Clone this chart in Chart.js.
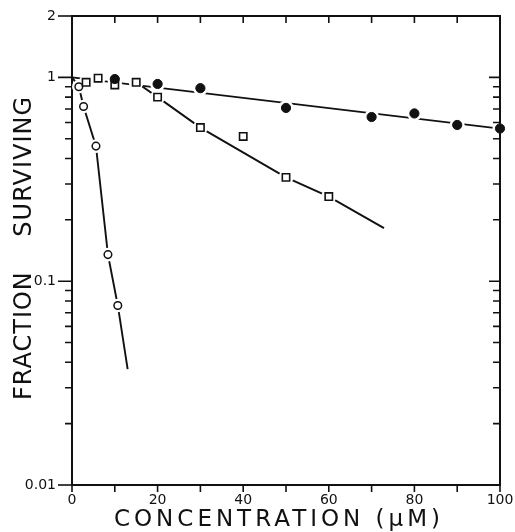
<!DOCTYPE html>
<html>
<head>
<meta charset="utf-8">
<script src="https://cdn.jsdelivr.net/npm/chart.js@4.4.1/dist/chart.umd.min.js"></script>
<style>
  html, body { margin: 0; padding: 0; background: #fff; }
  #wrap { width: 515px; height: 532px; }
</style>
</head>
<body>
<div id="wrap"><canvas id="survivalChart"></canvas></div>
<script>
  // Open circles
  const openX = [1.6, 2.7, 5.6, 8.4, 10.7];
  const openY = [0.90, 0.72, 0.46, 0.135, 0.076];
  const openCurveX = [0, 1.6, 2.7, 5.6, 8.4, 10.7, 13.0];
  const openCurveY = [1.0, 0.90, 0.72, 0.46, 0.135, 0.076, 0.037];

  // Open squares
  const squareX = [3.3, 6.1, 10, 15, 20, 30, 40, 50, 60];
  const squareY = [0.946, 0.99, 0.918, 0.946, 0.80, 0.567, 0.513, 0.323, 0.26];
  const squareCurveX = [15, 20, 30, 50, 60, 72.9];
  const squareCurveY = [0.946, 0.80, 0.567, 0.323, 0.26, 0.182];

  // Filled circles
  const filledX = [10, 20, 30, 50, 70, 80, 90, 100];
  const filledY = [0.981, 0.928, 0.885, 0.708, 0.639, 0.665, 0.584, 0.561];
  const filledLineX = [0, 100];
  const filledLineY = [1.0, 0.56];

  // Axes
  const xTicks = [0, 10, 20, 30, 40, 50, 60, 70, 80, 90, 100];
  const xLabelled = [0, 20, 40, 60, 80, 100];
  const yTicks = [0.01, 0.02, 0.03, 0.04, 0.05, 0.06, 0.07, 0.08, 0.09,
                  0.1, 0.2, 0.3, 0.4, 0.5, 0.6, 0.7, 0.8, 0.9, 1, 2];
  const yLabels = { 0.01: '0.01', 0.1: '0.1', 1: '1', 2: '2' };
  const xTitle = 'CONCENTRATION (\u00b5M)';
  const yTitle = 'FRACTION    SURVIVING';

  const pts = (xs, ys) => xs.map((x, i) => ({ x: x, y: ys[i] }));
  const ink = '#111';

  // ticks on all four sides, top/right borders and axis titles
  const frame = {
    id: 'frame',
    afterDraw(chart) {
      const { ctx, chartArea: a, scales: { x, y } } = chart;
      ctx.save();
      ctx.strokeStyle = ink;
      ctx.lineWidth = 2;
      ctx.beginPath();
      ctx.moveTo(a.left, a.top);
      ctx.lineTo(a.right, a.top);
      ctx.lineTo(a.right, a.bottom);
      ctx.stroke();

      ctx.lineWidth = 1.6;
      xTicks.forEach(v => {
        const px = x.getPixelForValue(v);
        ctx.beginPath();
        ctx.moveTo(px, a.bottom); ctx.lineTo(px, a.bottom + 7);
        if (v > 0 && v < 100) { ctx.moveTo(px, a.top); ctx.lineTo(px, a.top + 7); }
        ctx.stroke();
      });
      yTicks.forEach(v => {
        const py = y.getPixelForValue(v);
        const major = v in yLabels;
        ctx.beginPath();
        ctx.moveTo(a.left - (major ? 14 : 7), py); ctx.lineTo(a.left, py);
        if (v !== 2 && v !== 0.01) { ctx.moveTo(a.right - (major ? 11 : 7), py); ctx.lineTo(a.right, py); }
        ctx.stroke();
      });

      ctx.fillStyle = ink;
      ctx.font = '23px "DejaVu Sans"';
      ctx.letterSpacing = '4px';
      ctx.textAlign = 'center';
      ctx.textBaseline = 'alphabetic';
      ctx.fillText(xTitle, 279, 526);

      ctx.font = '24px "DejaVu Sans"';
      ctx.letterSpacing = '1px';
      ctx.translate(31, 248);
      ctx.rotate(-Math.PI / 2);
      ctx.fillText(yTitle, 0, 0);
      ctx.restore();
    }
  };

  const ctx = document.getElementById('survivalChart').getContext('2d');
  new Chart(ctx, {
    type: 'scatter',
    data: {
      datasets: [
        // markers
        { data: pts(filledX, filledY), pointStyle: 'circle', pointRadius: 4.6, backgroundColor: ink, borderColor: ink, borderWidth: 1, clip: false, order: 0 },
        { data: pts(squareX, squareY), pointStyle: 'rect', pointRadius: 5.2, backgroundColor: '#fff', borderColor: ink, borderWidth: 1.6, clip: false, order: 0 },
        { data: pts(openX, openY), pointStyle: 'circle', pointRadius: 3.8, backgroundColor: '#fff', borderColor: ink, borderWidth: 1.5, clip: false, order: 0 },
        // white halos that break the lines at the markers
        { data: pts(filledX, filledY), pointStyle: 'circle', pointRadius: 7.5, backgroundColor: '#fff', borderWidth: 0, clip: false, order: 1 },
        { data: pts(squareX, squareY), pointStyle: 'circle', pointRadius: 7.5, backgroundColor: '#fff', borderWidth: 0, clip: false, order: 1 },
        { data: pts(openX, openY), pointStyle: 'circle', pointRadius: 6.8, backgroundColor: '#fff', borderWidth: 0, clip: false, order: 1 },
        // lines
        { data: pts(filledLineX, filledLineY), showLine: true, pointRadius: 0, borderColor: ink, borderWidth: 1.9, order: 2 },
        { data: pts(squareCurveX, squareCurveY), showLine: true, pointRadius: 0, borderColor: ink, borderWidth: 1.9, order: 2 },
        { data: pts(openCurveX, openCurveY), showLine: true, pointRadius: 0, borderColor: ink, borderWidth: 1.9, order: 2 }
      ]
    },
    options: {
      responsive: true,
      maintainAspectRatio: false,
      animation: false,
      layout: { padding: { left: 0, top: 16, right: 15, bottom: 0 } },
      plugins: { legend: { display: false }, tooltip: { enabled: false } },
      scales: {
        x: {
          type: 'linear', min: 0, max: 100,
          afterBuildTicks: s => { s.ticks = xTicks.map(v => ({ value: v })); },
          afterFit: s => { s.height = 47; s.paddingLeft = 0; s.paddingRight = 0; },
          grid: { display: false, drawTicks: false },
          border: { display: true, color: ink, width: 2 },
          ticks: {
            autoSkip: false, maxRotation: 0, padding: 7, color: ink,
            font: { family: 'DejaVu Sans', size: 14 },
            callback: v => xLabelled.includes(v) ? String(v) : ''
          }
        },
        y: {
          type: 'logarithmic', min: 0.01, max: 2,
          afterBuildTicks: s => { s.ticks = yTicks.map(v => ({ value: v })); },
          afterFit: s => { s.width = 72; s.paddingTop = 0; s.paddingBottom = 0; },
          grid: { display: false, drawTicks: false },
          border: { display: true, color: ink, width: 2 },
          ticks: {
            autoSkip: false, padding: 16, color: ink,
            font: { family: 'DejaVu Sans', size: 14 },
            callback: v => yLabels[v] || ''
          }
        }
      }
    },
    plugins: [frame]
  });
</script>
</body>
</html>
